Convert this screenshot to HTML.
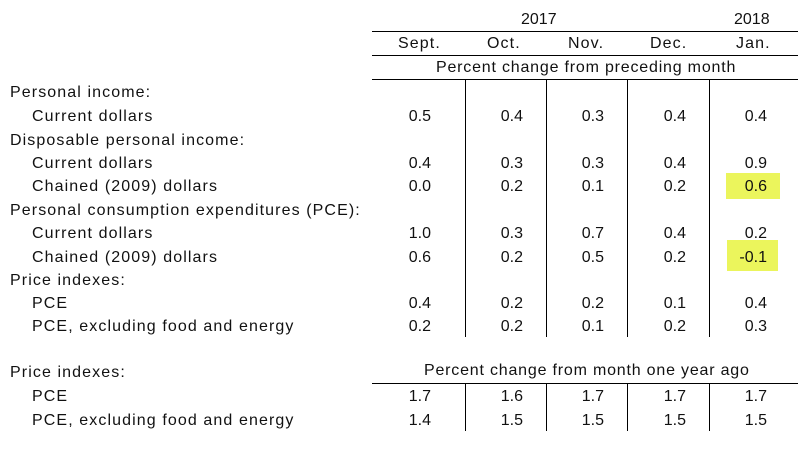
<!DOCTYPE html><html><head><style>
body{margin:0;width:802px;height:451px;background:#fff;position:relative;font-family:"Liberation Sans",sans-serif;font-size:16px;color:#111;overflow:hidden}
div{position:absolute;white-space:nowrap}
.t{letter-spacing:1.1px}
.h{background:#000;height:1px}
.v{background:#000;width:1px}
.n{text-align:right;width:60px}
.hl{background:#ebf55c}
</style></head><body>
<div class="hl" style="left:726px;top:173px;width:54px;height:26px"></div>
<div class="hl" style="left:727px;top:240px;width:51px;height:31px"></div>
<div class="h" style="left:372px;top:31px;width:426px"></div>
<div class="h" style="left:372px;top:55px;width:426px"></div>
<div class="h" style="left:372px;top:79px;width:426px"></div>
<div class="h" style="left:372px;top:383px;width:426px"></div>
<div class="v" style="left:465px;top:79px;height:258px"></div>
<div class="v" style="left:546px;top:79px;height:258px"></div>
<div class="v" style="left:627px;top:79px;height:258px"></div>
<div class="v" style="left:709px;top:79px;height:258px"></div>
<div class="v" style="left:465px;top:383px;height:48px"></div>
<div class="v" style="left:546px;top:383px;height:48px"></div>
<div class="v" style="left:627px;top:383px;height:48px"></div>
<div class="v" style="left:709px;top:383px;height:48px"></div>
<div style="left:521px;top:11px">2017</div>
<div style="left:734px;top:11px">2018</div>
<div class="t" style="left:398px;top:35px">Sept.</div>
<div class="t" style="left:487px;top:35px">Oct.</div>
<div class="t" style="left:568px;top:35px">Nov.</div>
<div class="t" style="left:650px;top:35px">Dec.</div>
<div class="t" style="left:736px;top:35px">Jan.</div>
<div style="left:436px;top:59px;letter-spacing:0.8px">Percent change from preceding month</div>
<div style="left:424px;top:362px;letter-spacing:0.8px">Percent change from month one year ago</div>
<div id="rows"></div>
<script>
var rows=[["Personal income:",0,null,83],["Current dollars",1,["0.5","0.4","0.3","0.4","0.4"],107],["Disposable personal income:",0,null,131],["Current dollars",1,["0.4","0.3","0.3","0.4","0.9"],154],["Chained (2009) dollars",1,["0.0","0.2","0.1","0.2","0.6"],177],["Personal consumption expenditures (PCE):",0,null,201],["Current dollars",1,["1.0","0.3","0.7","0.4","0.2"],224],["Chained (2009) dollars",1,["0.6","0.2","0.5","0.2","-0.1"],248],["Price indexes:",0,null,271],["PCE",1,["0.4","0.2","0.2","0.1","0.4"],294],["PCE, excluding food and energy",1,["0.2","0.2","0.1","0.2","0.3"],317],["Price indexes:",0,null,363],["PCE",1,["1.7","1.6","1.7","1.7","1.7"],387],["PCE, excluding food and energy",1,["1.4","1.5","1.5","1.5","1.5"],411]];
var R=[431,523,604,686,767],h="";
rows.forEach(function(r){h+='<div class="t" style="left:'+(r[1]?32:10)+'px;top:'+(r[3]+1)+'px">'+r[0]+'</div>';
if(r[2])r[2].forEach(function(v,i){h+='<div class="n" style="left:'+(R[i]-60)+'px;top:'+(r[3]+1)+'px">'+v+'</div>'})});
document.getElementById('rows').outerHTML=h;
</script>
</body></html>
